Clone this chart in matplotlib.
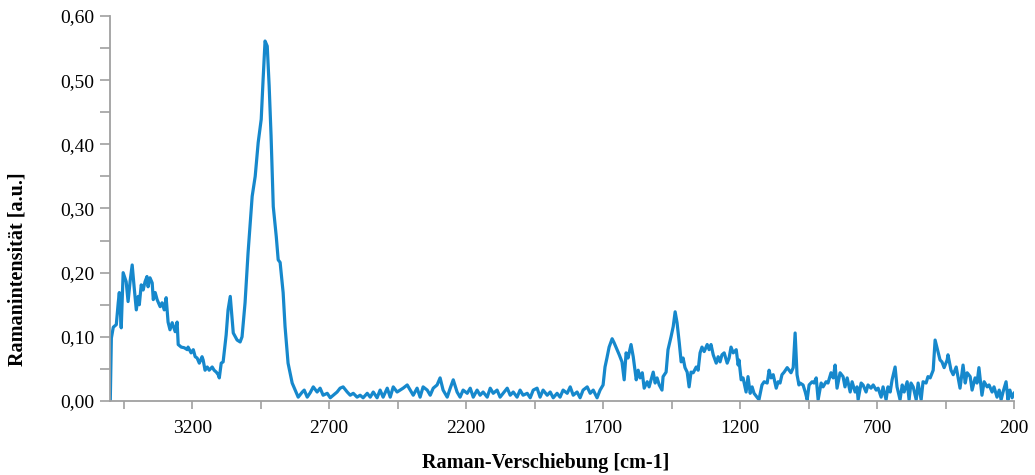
import numpy as np
import matplotlib
matplotlib.use("Agg")
import matplotlib.pyplot as plt
from matplotlib.ticker import FixedLocator, FuncFormatter

# Raman shift [cm-1] and intensity [a.u.]
wavenumber = [
    3499, 3495, 3488, 3477, 3470, 3466, 3459, 3452, 3441, 3434, 3426, 3419, 3412, 3404, 3397, 3393,
    3386, 3379, 3372, 3365, 3361, 3354, 3346, 3342, 3335, 3328, 3317, 3310, 3302, 3295, 3288, 3281,
    3273, 3262, 3255, 3251, 3240, 3229, 3218, 3215, 3204, 3196, 3189, 3182, 3174, 3164, 3160, 3153,
    3145, 3138, 3127, 3120, 3112, 3105, 3101, 3094, 3087, 3076, 3069, 3061, 3050, 3036, 3025, 3018,
    3007, 2996, 2981, 2970, 2959, 2948, 2941, 2934, 2926, 2919, 2912, 2904, 2893, 2886, 2879, 2868,
    2861, 2850, 2835, 2824, 2813, 2798, 2791, 2780, 2769, 2758, 2744,
    2733, 2722, 2707, 2696, 2685, 2671, 2660, 2649, 2634, 2623, 2612, 2598, 2587, 2576, 2561, 2550,
    2539, 2525, 2514, 2503, 2488, 2477, 2466, 2452, 2441, 2430, 2415, 2404, 2393, 2379, 2368, 2357,
    2342, 2331, 2320, 2306, 2295, 2284, 2269, 2258, 2247, 2233, 2222, 2211, 2196, 2185, 2174, 2160,
    2149, 2138, 2123, 2112, 2101, 2087, 2076, 2065, 2050, 2039, 2028, 2014, 2003, 1992, 1977, 1966,
    1955, 1941, 1930, 1919, 1904, 1893, 1882, 1868, 1857, 1846, 1831, 1820, 1809, 1795, 1784, 1773,
    1758, 1747, 1736, 1722, 1711, 1700, 1693,
    1686, 1678, 1667, 1660, 1649, 1641, 1631, 1623, 1616, 1609, 1598, 1590, 1579, 1572, 1565, 1557,
    1550, 1539, 1532, 1525, 1517, 1510, 1503, 1495, 1485, 1481, 1470, 1463, 1452, 1444, 1437, 1430,
    1422, 1415, 1408, 1401, 1393, 1386, 1379, 1371, 1360, 1353, 1346, 1339, 1331, 1320, 1313, 1306,
    1298, 1287, 1280, 1273, 1266, 1258, 1247, 1240, 1233, 1225, 1214, 1207, 1204, 1196, 1189, 1178,
    1171, 1163, 1156, 1149, 1138, 1131, 1120, 1112, 1101, 1094, 1087, 1079, 1068, 1061, 1054, 1047,
    1039, 1028, 1021, 1014, 1006, 999, 992, 985,
    981, 970, 962, 955, 948, 937, 930, 922, 915, 904, 897, 886, 879, 868, 860, 853,
    846, 835, 824, 817, 809, 798, 791, 780, 773, 769, 758, 751, 740, 733, 722, 714,
    703, 696, 685, 678, 667, 660, 652, 645, 634, 627, 616, 608, 601, 590, 583, 576,
    568, 557, 550, 539, 532, 521, 514, 506, 495, 488, 481, 470, 463, 455, 444, 441,
    430, 422, 411, 404, 397, 386, 378, 371, 360, 353, 342, 335, 328, 317, 309, 298,
    291, 280, 273, 262, 254, 247, 240, 229, 222, 215, 207, 200,
]
intensity = [
    0.000, 0.098, 0.115, 0.119, 0.153, 0.169, 0.114, 0.200, 0.186, 0.155, 0.189, 0.212, 0.178, 0.142, 0.163, 0.150,
    0.181, 0.173, 0.186, 0.194, 0.178, 0.192, 0.184, 0.158, 0.169, 0.158, 0.147, 0.153, 0.142, 0.161, 0.123, 0.111,
    0.122, 0.108, 0.123, 0.088, 0.084, 0.083, 0.080, 0.084, 0.075, 0.080, 0.069, 0.067, 0.059, 0.069, 0.064, 0.048,
    0.053, 0.048, 0.053, 0.048, 0.045, 0.041, 0.036, 0.059, 0.061, 0.103, 0.142, 0.163, 0.106, 0.095, 0.092, 0.100,
    0.153, 0.231, 0.319, 0.350, 0.403, 0.439, 0.502, 0.561, 0.553, 0.491, 0.413, 0.303, 0.256, 0.220, 0.216, 0.169,
    0.116, 0.059, 0.028, 0.017, 0.006, 0.014, 0.017, 0.006, 0.013, 0.022, 0.014,
    0.020, 0.009, 0.012, 0.005, 0.009, 0.014, 0.020, 0.022, 0.014, 0.009, 0.012, 0.006, 0.009, 0.005, 0.012, 0.006,
    0.014, 0.005, 0.017, 0.006, 0.020, 0.006, 0.022, 0.014, 0.017, 0.020, 0.025, 0.017, 0.009, 0.020, 0.006, 0.022,
    0.017, 0.009, 0.020, 0.025, 0.036, 0.017, 0.006, 0.020, 0.033, 0.014, 0.006, 0.017, 0.012, 0.020, 0.006, 0.017,
    0.009, 0.014, 0.006, 0.020, 0.012, 0.017, 0.006, 0.012, 0.020, 0.009, 0.014, 0.006, 0.017, 0.009, 0.012, 0.005,
    0.017, 0.020, 0.006, 0.017, 0.009, 0.014, 0.005, 0.012, 0.006, 0.017, 0.012, 0.022, 0.009, 0.014, 0.005, 0.017,
    0.022, 0.012, 0.017, 0.005, 0.017, 0.025, 0.053,
    0.067, 0.084, 0.097, 0.091, 0.080, 0.072, 0.061, 0.033, 0.075, 0.067, 0.088, 0.069, 0.033, 0.048, 0.036, 0.044,
    0.020, 0.030, 0.022, 0.033, 0.045, 0.028, 0.036, 0.025, 0.017, 0.038, 0.045, 0.080, 0.100, 0.116, 0.139, 0.122,
    0.091, 0.061, 0.067, 0.052, 0.045, 0.022, 0.045, 0.044, 0.053, 0.048, 0.075, 0.084, 0.077, 0.088, 0.080, 0.088,
    0.072, 0.059, 0.069, 0.061, 0.072, 0.075, 0.059, 0.067, 0.084, 0.075, 0.080, 0.056, 0.064, 0.033, 0.036, 0.014,
    0.038, 0.012, 0.022, 0.012, 0.006, 0.002, 0.025, 0.030, 0.028, 0.048, 0.036, 0.041, 0.020, 0.030, 0.028, 0.041,
    0.045, 0.052, 0.048, 0.044, 0.052, 0.106, 0.041, 0.025,
    0.028, 0.025, 0.014, 0.002, 0.025, 0.030, 0.028, 0.036, 0.002, 0.028, 0.022, 0.030, 0.028, 0.044, 0.036, 0.056,
    0.020, 0.044, 0.038, 0.022, 0.036, 0.014, 0.030, 0.014, 0.022, 0.002, 0.028, 0.025, 0.014, 0.025, 0.020, 0.025,
    0.017, 0.020, 0.006, 0.022, 0.002, 0.022, 0.014, 0.033, 0.053, 0.022, 0.002, 0.025, 0.014, 0.030, 0.002, 0.028,
    0.022, 0.002, 0.028, 0.002, 0.030, 0.028, 0.038, 0.036, 0.048, 0.095, 0.083, 0.064, 0.061, 0.052, 0.064, 0.072,
    0.048, 0.041, 0.053, 0.036, 0.020, 0.056, 0.028, 0.044, 0.038, 0.017, 0.036, 0.028, 0.052, 0.009, 0.030, 0.022,
    0.025, 0.014, 0.022, 0.006, 0.017, 0.002, 0.014, 0.030, 0.002, 0.017, 0.005, 0.012,
]

x_major = [3200, 2700, 2200, 1700, 1200, 700, 200]
x_minor = [3450, 2950, 2450, 1950, 1450, 950, 450]
y_major = [0.0, 0.1, 0.2, 0.3, 0.4, 0.5, 0.6]
y_minor = [0.05, 0.15, 0.25, 0.35, 0.45, 0.55]

plt.rcParams['font.family'] = ['Liberation Serif', 'DejaVu Serif']

W, H = 1035, 475
fig = plt.figure(figsize=(W / 100, H / 100), dpi=100)
ax = fig.add_axes([110 / W, 74 / H, (1014 - 110) / W, (401 - 16) / H])

ax.plot(wavenumber, intensity, color='#1688cc', lw=2.3, solid_joinstyle='round')

ax.set_xlim(3500, 200)
ax.set_ylim(0, 0.6)

ax.xaxis.set_major_locator(FixedLocator(x_major))
ax.xaxis.set_minor_locator(FixedLocator(x_minor))
ax.yaxis.set_major_locator(FixedLocator(y_major))
ax.yaxis.set_minor_locator(FixedLocator(y_minor))
ax.yaxis.set_major_formatter(FuncFormatter(lambda v, p: f"{v:.2f}".replace('.', ',')))
ax.xaxis.set_major_formatter(FuncFormatter(lambda v, p: f"{v:.0f}"))

grey = '#a0a0a0'
for s in ['top', 'right']:
    ax.spines[s].set_visible(False)
for s in ['left', 'bottom']:
    ax.spines[s].set_color(grey)
    ax.spines[s].set_linewidth(1.3)

ax.tick_params(axis='both', which='both', direction='out', color=grey, width=1.2, length=6)
ax.tick_params(axis='y', which='both', length=7, pad=4, labelsize=14)
ax.tick_params(axis='x', which='both', pad=8, labelsize=14)

ax.set_xlabel('Raman-Verschiebung [cm-1]', fontsize=14.5, fontweight='bold')
ax.set_ylabel('Ramanintensität [a.u.]', fontsize=14.5, fontweight='bold')
ax.xaxis.set_label_coords(0.482, -0.135)
ax.yaxis.set_label_coords(-0.091, 0.343)

fig.savefig('out.png', dpi=100)
